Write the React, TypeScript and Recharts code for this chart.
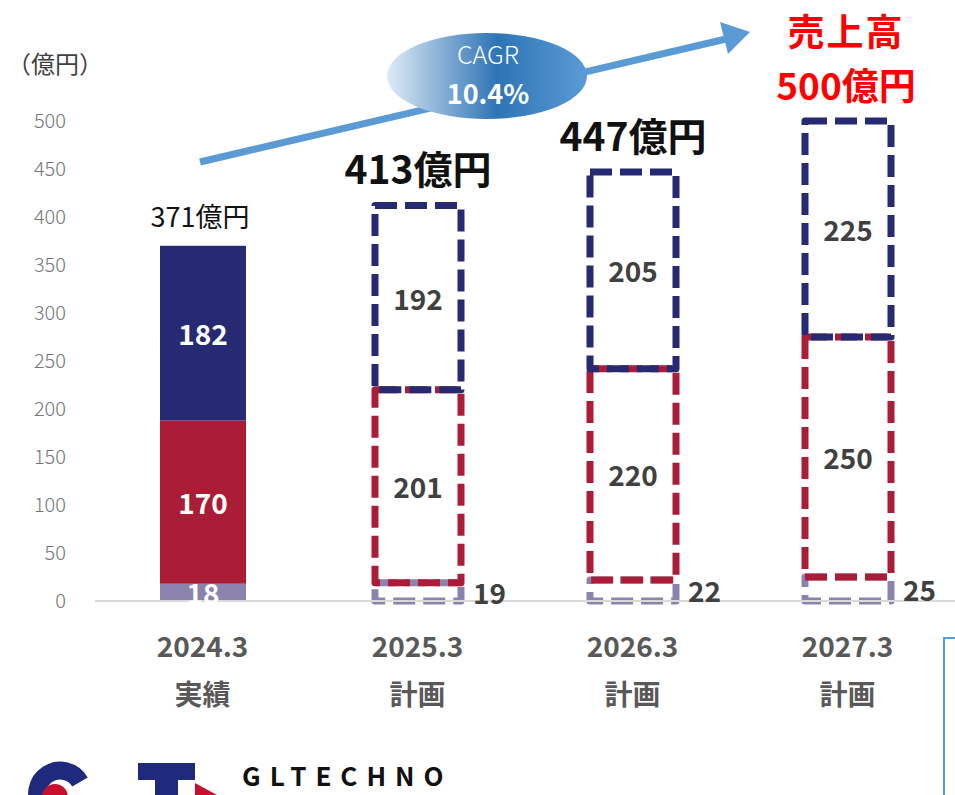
import { BarChart, Bar, XAxis, YAxis, LabelList } from 'recharts';

const FONT = '"Noto Sans CJK JP", "Noto Sans", sans-serif';

const categories = ['2024.3', '2025.3', '2026.3', '2027.3'];
const subLabels = ['実績', '計画', '計画', '計画'];
const baseSeg = [18, 19, 22, 25];
const midSeg = [170, 201, 220, 250];
const topSeg = [182, 192, 205, 225];
const totals = [371, 413, 447, 500];
const yTicks = [0, 50, 100, 150, 200, 250, 300, 350, 400, 450, 500];

const data = categories.map((c, i) => ({
  name: c,
  sub: subLabels[i],
  base: baseSeg[i],
  mid: midSeg[i],
  top: topSeg[i],
  total: totals[i],
}));

// 実績は塗りつぶし、計画は破線の枠
function SegShape(props: any) {
  const { x, y, width, height, index, fill } = props;
  if (index === 0) {
    return <rect x={x} y={y} width={width} height={height} fill={fill} />;
  }
  return (
    <rect
      x={x} y={y} width={width} height={height}
      fill="none" stroke={fill} strokeWidth={7}
      strokeDasharray="22 8" strokeLinejoin="round"
    />
  );
}

function InnerLabel(props: any) {
  const { x, y, width, height, value, index } = props;
  return (
    <text
      x={x + width / 2} y={y + height / 2} textAnchor="middle" dominantBaseline="central"
      fontFamily={FONT} fontWeight={700} fontSize={28}
      fill={index === 0 ? '#ffffff' : '#404040'}
    >
      {value}
    </text>
  );
}

function BaseLabel(props: any) {
  const { x, y, width, height, value, index } = props;
  const first = index === 0;
  return (
    <text
      x={first ? x + width / 2 : x + width + 12} y={y + height / 2}
      textAnchor={first ? 'middle' : 'start'} dominantBaseline="central"
      fontFamily={FONT} fontWeight={700} fontSize={28}
      fill={first ? '#ffffff' : '#404040'}
    >
      {value}
    </text>
  );
}

function TotalLabel(props: any) {
  const { x, y, width, index } = props;
  const cx = x + width / 2;
  const t = totals[index];
  if (index === 0) {
    return (
      <text x={cx - 3} y={y - 30} textAnchor="middle" dominantBaseline="central"
        fontFamily={FONT} fontSize={27} fill="#111">
        {t}億円
      </text>
    );
  }
  if (index === totals.length - 1) {
    return (
      <g fontFamily={FONT} fontWeight={700} fontSize={37} fill="#ff0000" textAnchor="middle">
        <text x={cx - 2} y={y - 91} dominantBaseline="central" letterSpacing={2}>売上高</text>
        <text x={cx - 2} y={y - 37} dominantBaseline="central">{t}億円</text>
      </g>
    );
  }
  return (
    <text x={cx} y={y - 38} textAnchor="middle" dominantBaseline="central"
      fontFamily={FONT} fontWeight={700} fontSize={39} fill="#111">
      {t}億円
    </text>
  );
}

function CatTick(props: any) {
  const { x, y, payload, index } = props;
  return (
    <g fontFamily={FONT} fontWeight={700} fill="#595959" textAnchor="middle">
      <text x={x} y={y + 42} fontSize={28} dominantBaseline="central">{payload.value}</text>
      <text x={x} y={y + 90} fontSize={28} dominantBaseline="central">{subLabels[index]}</text>
    </g>
  );
}

export default function App() {
  return (
    <div style={{ position: 'fixed', left: 0, top: 0, width: 955, height: 795, background: '#fff', overflow: 'hidden' }}>
      <BarChart
        width={955}
        height={795}
        data={data}
        margin={{ top: 121, right: 0, bottom: 114, left: 0 }}
        barSize={86}
      >
        <XAxis
          dataKey="name" height={80} tickLine={false} tickSize={0}
          axisLine={{ stroke: '#d9d9d9', strokeWidth: 2 }}
          tick={<CatTick />} interval={0}
        />
        <YAxis
          width={95} domain={[0, 500]} ticks={yTicks} axisLine={false}
          tickLine={false} tickSize={0} tickMargin={29}
          tick={{ fontSize: 20, fill: '#767676', fontFamily: FONT, fontWeight: 300 }}
        />
        <Bar dataKey="base" stackId="a" fill="#8b83ae" shape={<SegShape />} isAnimationActive={false}>
          <LabelList dataKey="base" content={<BaseLabel />} />
        </Bar>
        <Bar dataKey="mid" stackId="a" fill="#ab1c37" shape={<SegShape />} isAnimationActive={false}>
          <LabelList dataKey="mid" content={<InnerLabel />} />
        </Bar>
        <Bar dataKey="top" stackId="a" fill="#252a73" shape={<SegShape />} isAnimationActive={false}>
          <LabelList dataKey="top" content={<InnerLabel />} />
          <LabelList dataKey="total" content={<TotalLabel />} />
        </Bar>
      </BarChart>

      <svg width={955} height={795} style={{ position: 'absolute', left: 0, top: 0, pointerEvents: 'none' }}>
        <defs>
          <linearGradient id="cagrGrad" x1="0" y1="0" x2="1" y2="0">
            <stop offset="0%" stopColor="#dfeaf6" />
            <stop offset="55%" stopColor="#2e74b5" />
            <stop offset="100%" stopColor="#5b9bd5" />
          </linearGradient>
        </defs>
        <text x={55} y={62} textAnchor="middle" dominantBaseline="central" fontFamily={FONT} fontSize={24} fill="#404040">（億円）</text>

        {/* CAGR arrow */}
        <line x1={200} y1={162} x2={726} y2={39} stroke="#5b9bd5" strokeWidth={7} />
        <polygon points="750,32 720,22 728,54" fill="#5b9bd5" />
        <ellipse cx={487} cy={76} rx={100} ry={43} fill="url(#cagrGrad)" />
        <text x={488} y={53} textAnchor="middle" dominantBaseline="central" fontFamily={FONT} fontWeight={300} fontSize={25} fill="#fff">CAGR</text>
        <text x={488} y={92} textAnchor="middle" dominantBaseline="central" fontFamily={FONT} fontWeight={700} fontSize={27} fill="#fff">10.4%</text>

        {/* logo */}
        <path d="M 80 782 A 23 23 0 1 0 74 812" fill="none" stroke="#1f2a7c" strokeWidth={18} />
        <circle cx={55} cy={797} r={13} fill="#c8102e" />
        <rect x={138} y={763} width={57} height={17} fill="#1f2a7c" />
        <rect x={155} y={780} width={23} height={15} fill="#1f2a7c" />
        <polygon points="195,783 217,795 195,795" fill="#c8102e" />
        <text x={242} y={786} fontFamily={FONT} fontWeight={700} fontSize={26} letterSpacing={9} fill="#111">GLTECHNO</text>

        {/* right frame */}
        <polyline points="955,638 944,638 944,795" fill="none" stroke="#5b9bd5" strokeWidth={2} />
      </svg>
    </div>
  );
}
